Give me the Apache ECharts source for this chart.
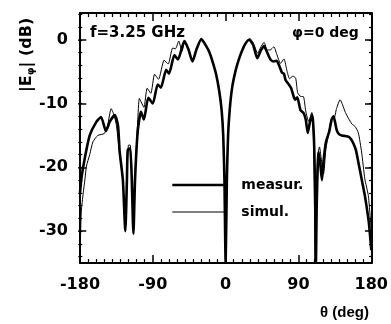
<!DOCTYPE html>
<html>
<head>
<meta charset="utf-8">
<script src="https://cdn.jsdelivr.net/npm/echarts@6/dist/echarts.min.js"></script>
<style>
html,body{margin:0;padding:0;background:#fff;}
#c{width:391px;height:324px;}
</style>
</head>
<body>
<div id="c"></div>
<script>
// ---- data ----
var thetaMeas = [-180,-178,-174,-168,-160,-154,-148,-143,-137,-133,-131,-127,-124,-122,-121,-118,-116,-114,-112,-108.7,-104.6,-101,-95.6,-90,-84,-80,-73.5,-70,-63.3,-59,-51,-46,-41,-36,-30,-24,-20,-16,-12,-8,-5,-3,-1.5,0,1.5,3,5,8,12,16,20,24,29,34,39,43,47.3,50,53.4,56,59.6,63,66,69.8,72,74,78,81,84,86,88.5,92.4,96.4,99,101.5,104,106.7,108,109.5,110.5,111.6,112.5,114,115,117,119,121,124,128,131,133.3,135,137.4,140,143.5,148,151.7,155,158,161,164,168,172,176.3,178,180];
var dbMeas = [-24,-21.5,-18.5,-15,-12.9,-12.1,-14.3,-12.8,-11.8,-13.5,-17.5,-22,-30,-22,-17.3,-17,-22,-30.4,-22,-14.4,-11.3,-12.5,-9.1,-10,-7,-7.5,-4.7,-5.3,-2.4,-3.1,-0.2,-1.5,-3.4,-1.5,0.1,-1,-2,-3.5,-5.3,-8,-11,-15,-22,-35,-22,-15,-11,-7.5,-5,-3.2,-1.8,-0.7,0,-0.8,-2.9,-1.8,-1,-1.6,-2.6,-3.2,-3.4,-3.3,-4,-5.2,-5.3,-6.3,-7,-7.6,-8.9,-9.4,-9,-11,-11.5,-12.5,-14.6,-13,-11.8,-12.8,-17,-24,-35,-26,-19,-17.6,-19.5,-22,-19,-16,-14.4,-12.5,-12,-12.8,-14.2,-14.8,-15,-15.1,-15.2,-15.6,-16.3,-17.3,-19.2,-21.8,-24.4,-28,-30,-33];

var thetaSim = [-180,-178.4,-176,-174,-172,-168,-164,-158,-150,-146,-141.5,-138,-135,-131,-127,-124,-122,-120,-118,-116,-113.7,-111.5,-108.7,-106.7,-104.6,-101,-97,-92.5,-87.8,-83,-76,-71,-65.5,-62,-58,-54,-50.5,-46,-41,-36,-30,-24,-20,-16,-12,-8,-5,-3,-1.5,0,1.5,3,5,8,12,16,20,24,30,35,39.5,44,47.5,51.4,55,59.6,63,67.8,72,76,79,83,86.5,89,93,96,99,102.6,106.5,108,109.5,110.5,112,114,116,118,121,124,127,131,134,137,141.5,144.5,148,151.7,156,160,164,168,172,176.3,178,180];
var dbSim = [-34,-27,-24,-22,-19.8,-18,-16,-15,-14.7,-13.5,-10.8,-11.8,-13.4,-18,-22,-29.5,-21,-16.5,-16.5,-21,-29.5,-20,-12.9,-9.2,-9.7,-10.6,-7.6,-8.4,-5.4,-6.2,-3.2,-3.8,-1.3,-1.4,-0.2,-1.8,-0.3,-1.5,-3.2,-1.3,0.1,-1,-2,-3.5,-5.3,-8,-11,-15,-22,-35,-22,-15,-11,-7.5,-5,-3.2,-1.8,-0.6,0.2,-0.8,-2.1,-1,-0.4,-1.6,-1.6,-1.1,-2.2,-3.7,-3,-5,-6.1,-5.7,-6,-8.3,-8.9,-8.9,-11.2,-12.8,-11.4,-13,-22,-35,-24,-18,-16.8,-18.5,-21,-17,-15,-12.3,-12.3,-10.8,-9.4,-10.2,-11.4,-12.3,-13.2,-13.6,-14.6,-17.6,-21.8,-24.4,-26.8,-30];

var xRange = [-180, 180];
var yRange = [-35, 4.2];
var yLabels = [-30, -20, -10, 0];
var yMinorTicks = [-34,-32,-30,-28,-26,-24,-22,-20,-18,-16,-14,-12,-10,-8,-6,-4,-2,0,2,4];
var seriesNames = ['measur.', 'simul.'];

function pairs(xs, ys){ var o=[]; for (var i=0;i<xs.length;i++) o.push([xs[i], ys[i]]); return o; }

var FONT = 'DejaVu Sans';
var PLOT_W = 293, PLOT_H = 250;
var BLACK = '#000';
var noSplit = {show:false};

// frame axes (lines + labels)
function xFrame(pos, showLabel){
  return {type:'value', min:xRange[0], max:xRange[1], interval:90, position:pos,
    axisLine:{show:true, onZero:false, lineStyle:{color:BLACK, width:2}},
    axisTick:{show:false},
    axisLabel:{show:showLabel, margin:14, color:BLACK, fontFamily:FONT, fontWeight:'bold', fontSize:16},
    splitLine:noSplit};
}
// tick-only axes placed on the opposite edge so that their outward ticks point into the plot
function xTickAxis(pos){
  return {type:'value', min:xRange[0], max:xRange[1], interval:90, position:pos, offset:-PLOT_H,
    axisLine:{show:false, onZero:false},
    axisTick:{show:true, inside:false, length:8, lineStyle:{color:BLACK, width:1.5}},
    minorTick:{show:true, splitNumber:9, length:4, lineStyle:{color:BLACK, width:1.2}},
    axisLabel:{show:false}, splitLine:noSplit};
}
function yFrame(pos, showLabel){
  return {type:'value', min:yRange[0], max:yRange[1], position:pos,
    axisLine:{show:true, onZero:false, lineStyle:{color:BLACK, width:2}},
    axisTick:{show:false},
    axisLabel:{show:showLabel, margin:12, customValues:yLabels, color:BLACK, fontFamily:FONT, fontWeight:'bold', fontSize:16},
    splitLine:noSplit};
}
function yTickAxis(pos, major){
  return {type:'value', min:yRange[0], max:yRange[1], position:pos, offset:-PLOT_W,
    axisLine:{show:false, onZero:false},
    axisTick:{show:true, inside:false, length:major?8:4, customValues:major?yLabels:yMinorTicks, lineStyle:{color:BLACK, width:major?1.5:1.2}},
    axisLabel:{show:false}, splitLine:noSplit};
}

var chart = echarts.init(document.getElementById('c'), null, {renderer:'canvas'});
chart.setOption({
  animation:false,
  backgroundColor:'#fff',
  grid:{left:80, right:18, top:13, bottom:61},
  xAxis:[xFrame('bottom', true), xFrame('top', false), xTickAxis('top'), xTickAxis('bottom')],
  yAxis:[yFrame('left', true), yFrame('right', false),
         yTickAxis('right', true), yTickAxis('right', false),
         yTickAxis('left', true), yTickAxis('left', false)],
  legend:{
    data:[{name:seriesNames[0], lineStyle:{width:2.6}}, {name:seriesNames[1], lineStyle:{width:1}}],
    orient:'vertical', left:166, top:173, itemWidth:54, itemHeight:14, itemGap:13,
    itemStyle:{opacity:0},
    textStyle:{color:BLACK, fontFamily:FONT, fontWeight:'bold', fontSize:14, padding:[0,0,0,10]}
  },
  graphic:[
    {type:'text', left:90, top:26, style:{text:'f=3.25 GHz', fill:BLACK, font:'bold 15px "DejaVu Sans"'}},
    {type:'text', left:292, top:26, style:{text:'φ=0 deg', fill:BLACK, font:'bold 14px "DejaVu Sans"'}},
    {type:'text', left:320, top:305, style:{text:'θ (deg)', fill:BLACK, font:'bold 15px "Liberation Sans"'}},
    {type:'text', x:17, y:92, rotation:Math.PI/2,
      style:{text:'{a||E}{s|φ}{a|| (dB)}', fill:BLACK,
        rich:{a:{fontFamily:'DejaVu Sans', fontWeight:'bold', fontSize:16, fill:BLACK},
              s:{fontFamily:'DejaVu Sans', fontWeight:'bold', fontSize:10, fill:BLACK, verticalAlign:'bottom', padding:[9,0,0,0]}}}}
  ],
  series:[
    {name:seriesNames[0], type:'line', xAxisIndex:0, yAxisIndex:0, data:pairs(thetaMeas, dbMeas),
     symbol:'none', smooth:0.2, lineStyle:{color:BLACK, width:2.6}, itemStyle:{color:BLACK}, z:3},
    {name:seriesNames[1], type:'line', xAxisIndex:0, yAxisIndex:0, data:pairs(thetaSim, dbSim),
     symbol:'none', smooth:0.2, lineStyle:{color:BLACK, width:1}, itemStyle:{color:BLACK}, z:2}
  ]
});
</script>
</body>
</html>
